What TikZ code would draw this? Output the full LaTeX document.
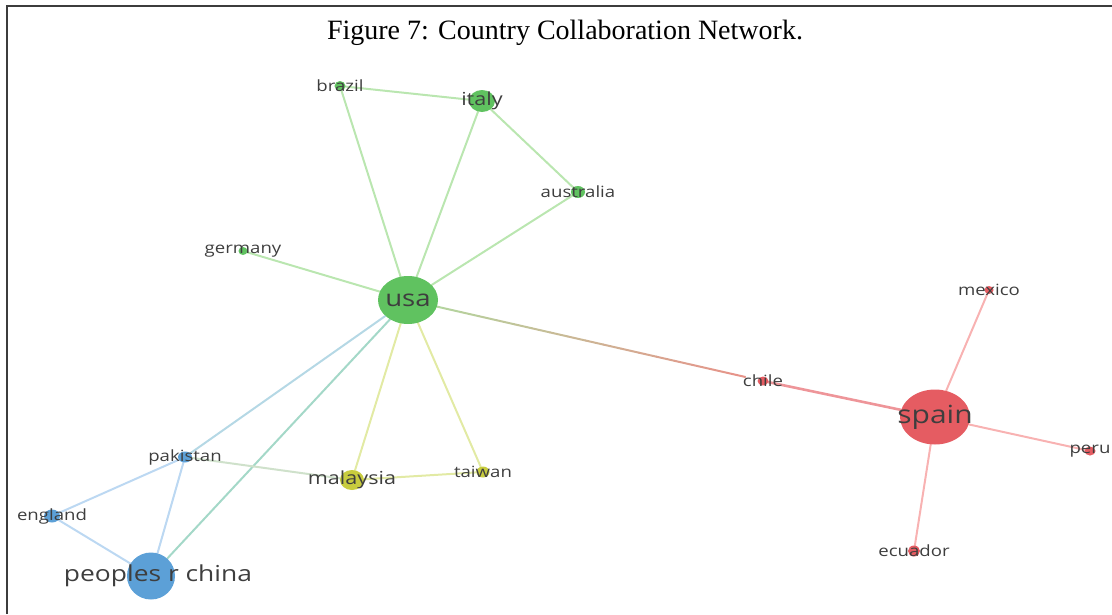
\documentclass[tikz,border=0pt]{standalone}
\usepackage{fontspec}
\setmainfont{Liberation Serif}
\newfontfamily\labelfont[FakeStretch=1.2]{Open Sans}
\usetikzlibrary{shapes.geometric,calc}
\pgfdeclarelayer{edges}
\pgfsetlayers{edges,main}

\definecolor{nodegreen}{RGB}{96,194,96}
\definecolor{nodered}{RGB}{229,92,98}
\definecolor{nodeblue}{RGB}{92,160,215}
\definecolor{nodeyellow}{RGB}{200,204,62}
\definecolor{edgegreen}{RGB}{186,230,176}
\definecolor{edgered}{RGB}{248,178,178}
\definecolor{edgeblue}{RGB}{188,216,242}
\definecolor{edgeyellow}{RGB}{226,234,164}
\definecolor{edgeteal}{RGB}{164,216,200}
\definecolor{fadegreen}{RGB}{176,218,160}
\definecolor{fadered}{RGB}{236,140,136}
\definecolor{labelgray}{RGB}{62,62,62}
\definecolor{framegray}{RGB}{60,60,60}

\tikzset{
  dot/.style={
    ellipse,
    draw=none,
    inner sep=0pt
  },
  gdot/.style={dot, fill=nodegreen},
  rdot/.style={dot, fill=nodered},
  bdot/.style={dot, fill=nodeblue},
  ydot/.style={dot, fill=nodeyellow},
  lbl/.style={
    inner sep=0pt,
    text=labelgray,
    font=\labelfont\fontsize{15.5}{15.5}\selectfont
  },
  midlbl/.style={lbl, font=\labelfont\fontsize{18}{18}\selectfont},
  biglbl/.style={lbl, font=\labelfont\fontsize{23}{23}\selectfont},
  link/.style={line width=2pt, line cap=round},
  frame/.style={line width=1.4pt, draw=framegray}
}

\begin{document}
\begin{tikzpicture}[x=1pt, y=-1pt]

\useasboundingbox (0,0) rectangle (1112,614);

% --- frame and title ---
\draw[frame] (7,614) -- (7,6) -- (1112,6);
\node[font=\fontsize{28}{28}\selectfont] (title) at (565,33) {Figure 7: Country Collaboration Network.};

% --- green cluster ---
\node[gdot, minimum width=60pt, minimum height=48pt] (usa) at (408,300) {};
\node[gdot, minimum width=26pt, minimum height=22pt] (italy) at (482,101) {};
\node[gdot, minimum width=11pt, minimum height=10pt] (brazil) at (340,86) {};
\node[gdot, minimum width=14pt, minimum height=12pt] (australia) at (578,192) {};
\node[gdot, minimum width=9pt, minimum height=8pt] (germany) at (243,251) {};

% --- red cluster ---
\node[rdot, minimum width=70pt, minimum height=55pt] (spain) at (935,417) {};
\node[rdot, minimum width=11pt, minimum height=9pt] (chile) at (763,381) {};
\node[rdot, minimum width=9pt, minimum height=8pt] (mexico) at (989,290) {};
\node[rdot, minimum width=11pt, minimum height=9pt] (peru) at (1090,451) {};
\node[rdot, minimum width=12pt, minimum height=11pt] (ecuador) at (914,551) {};

% --- blue cluster ---
\node[bdot, minimum width=48pt, minimum height=47pt] (china) at (151,576) {};
\node[bdot, minimum width=14pt, minimum height=11pt] (pakistan) at (185,457) {};
\node[bdot, minimum width=16pt, minimum height=13pt] (england) at (52,516) {};

% --- yellow cluster ---
\node[ydot, minimum width=24pt, minimum height=20pt] (malaysia) at (352,480) {};
\node[ydot, minimum width=13pt, minimum height=11pt] (taiwan) at (483,472) {};

% --- links (behind the nodes) ---
\begin{pgfonlayer}{edges}
\draw[link, edgegreen] (usa) -- (brazil);
\draw[link, edgegreen] (usa) -- (italy);
\draw[link, edgegreen] (usa) -- (australia);
\draw[link, edgegreen] (usa) -- (germany);
\draw[link, edgegreen] (brazil) -- (italy);
\draw[link, edgegreen] (italy) -- (australia);
\draw[link, edgeyellow] (usa) -- (malaysia);
\draw[link, edgeyellow] (usa) -- (taiwan);
\draw[link, edgeyellow] (malaysia) -- (taiwan);
\draw[link, edgeteal] (usa) -- (china);
\draw[link, edgeblue!70!edgeteal] (usa) -- (pakistan);
\draw[link, edgeblue!50!edgeyellow] (pakistan) -- (malaysia);
\draw[link, edgeblue] (pakistan) -- (england);
\draw[link, edgeblue] (pakistan) -- (china);
\draw[link, edgeblue] (england) -- (china);
\draw[link, edgered] (spain) -- (mexico);
\draw[link, edgered] (spain) -- (peru);
\draw[link, edgered] (spain) -- (ecuador);
% usa to chile fades from green into red
\foreach \i [evaluate=\i as \j using \i+0.05, evaluate=\i as \p using 100-\i*100] in {0,0.05,...,0.95}
  \draw[link, fadegreen!\p!fadered] ($(usa)!\i!(chile)$) -- ($(usa)!\j!(chile)$);
\draw[link, line width=2.6pt, nodered!65] (chile) -- (spain);
\end{pgfonlayer}

% --- labels ---
\node[biglbl] (usa-t) at (usa) {usa};
\node[biglbl, font=\labelfont\fontsize{25}{25}\selectfont] (spain-t) at (spain) {spain};
\node[biglbl, font=\labelfont\fontsize{22}{22}\selectfont, xshift=7pt] (china-t) at (china) {peoples r china};
\node[midlbl] (italy-t) at (italy) {italy};
\node[midlbl] (malaysia-t) at (malaysia) {malaysia};
\node[lbl] (brazil-t) at (brazil) {brazil};
\node[lbl] (australia-t) at (australia) {australia};
\node[lbl] (germany-t) at (germany) {germany};
\node[lbl] (chile-t) at (chile) {chile};
\node[lbl] (mexico-t) at (mexico) {mexico};
\node[lbl] (peru-t) at (peru) {peru};
\node[lbl] (ecuador-t) at (ecuador) {ecuador};
\node[lbl] (pakistan-t) at (pakistan) {pakistan};
\node[lbl] (england-t) at (england) {england};
\node[lbl] (taiwan-t) at (taiwan) {taiwan};

\end{tikzpicture}
\end{document}
